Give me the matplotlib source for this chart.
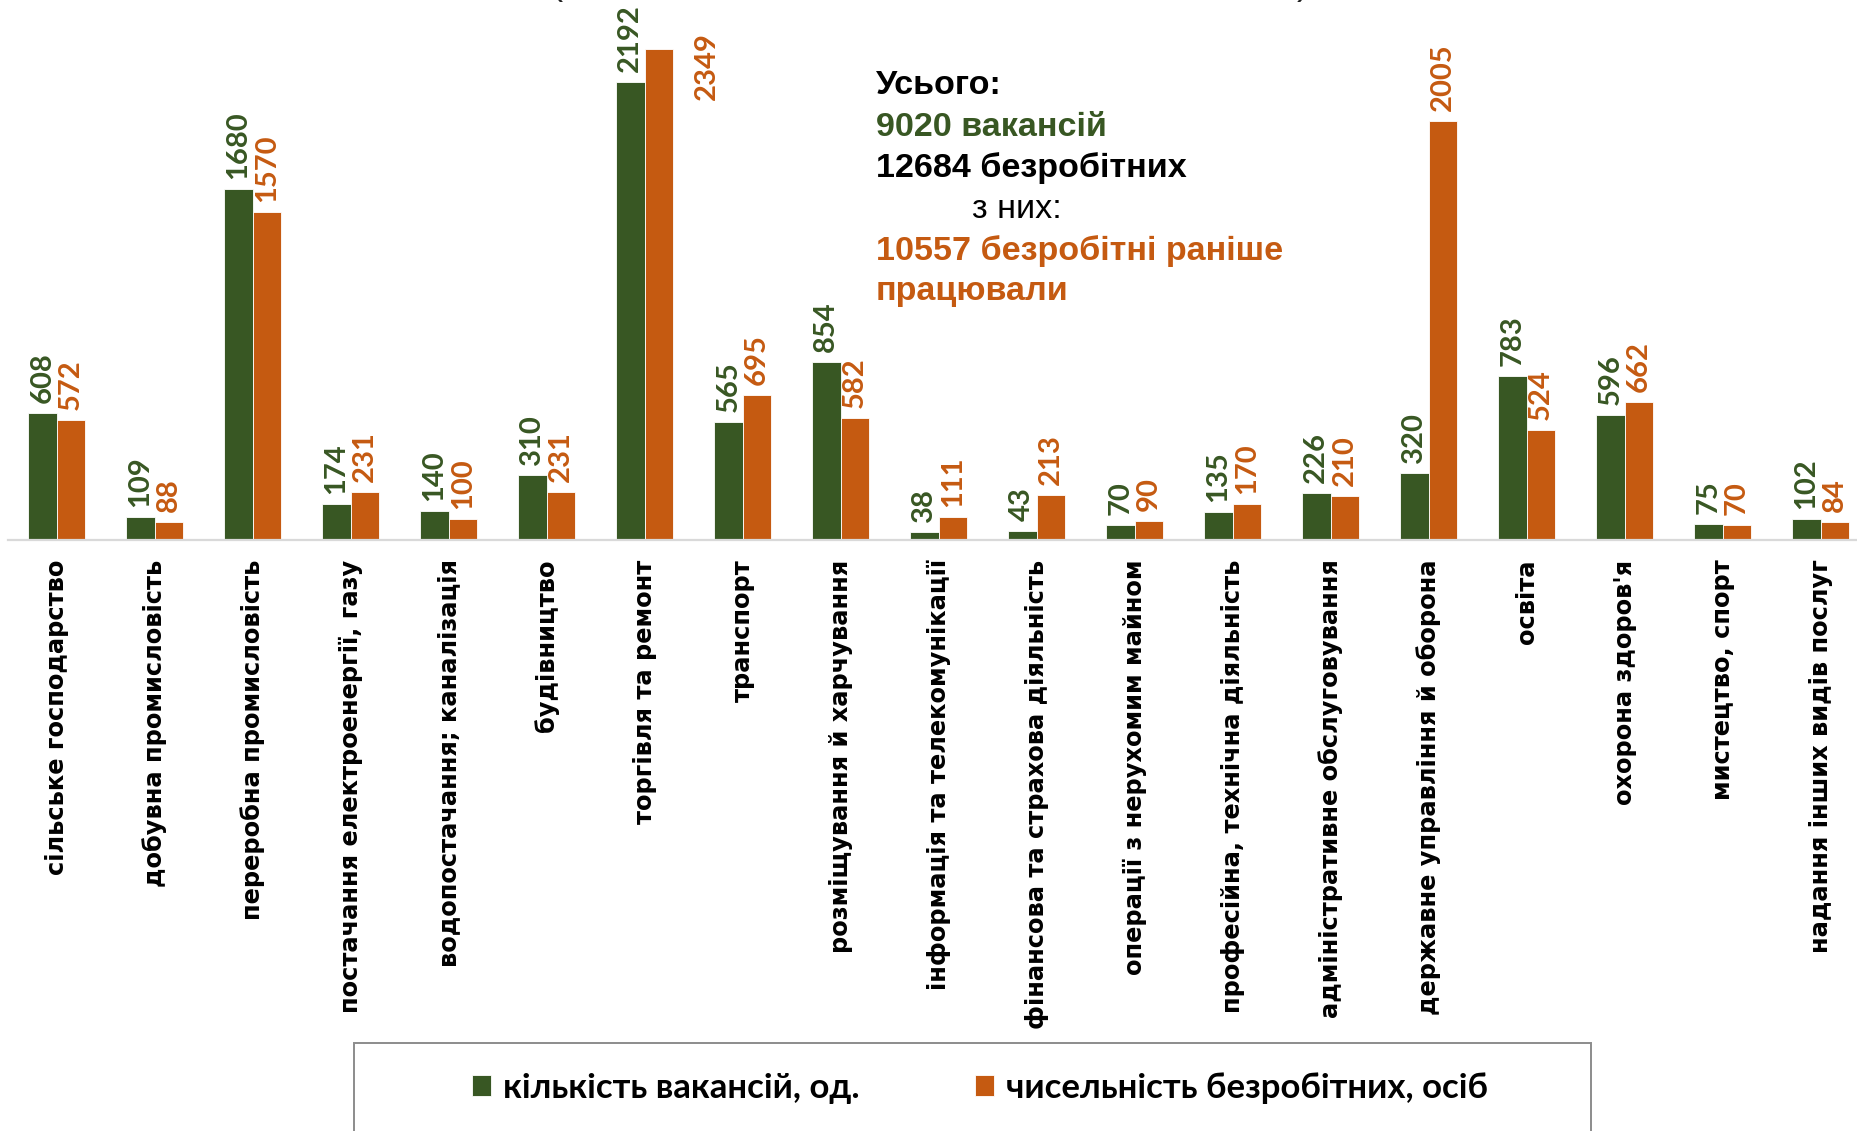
import numpy as np
import matplotlib
matplotlib.use("Agg")
import matplotlib.pyplot as plt
from matplotlib.patches import Rectangle

GREEN = "#385723"
ORANGE = "#C55A11"
W, H, DPI = 1858, 1131, 100

categories = [
    "сільське господарство", "добувна промисловість", "переробна промисловість",
    "постачання електроенергії, газу", "водопостачання; каналізація", "будівництво",
    "торгівля та ремонт", "транспорт", "розміщування й харчування",
    "інформація та телекомунікації", "фінансова та страхова діяльність",
    "операції з нерухомим майном", "професійна, технічна діяльність",
    "адміністративне обслуговування", "державне управління й оборона", "освіта",
    "охорона здоров'я", "мистецтво, спорт", "надання інших видів послуг",
]
vacancies = [608, 109, 1680, 174, 140, 310, 2192, 565, 854, 38, 43, 70, 135, 226, 320, 783, 596, 75, 102]
unemployed = [572, 88, 1570, 231, 100, 231, 2349, 695, 582, 111, 213, 90, 170, 210, 2005, 524, 662, 70, 84]
series_names = ["кількість вакансій, од.", "чисельність безробітних, осіб"]

fig = plt.figure(figsize=(W / DPI, H / DPI), dpi=DPI)
# axes: baseline at y=540px, category step 98px, first group centre at 57px
base_px, step, x0 = 540, 98.0, 7.7
ax = fig.add_axes([x0 / W, (H - base_px) / H, (W - x0) / W, base_px / H])
ymax = base_px / 0.209
ax.set_ylim(0, ymax)
ax.set_xlim(-0.5, (W - x0) / step - 0.5)

x = np.arange(len(categories))
bw = 0.293
b1 = ax.bar(x - bw / 2, vacancies, bw, color=GREEN, edgecolor="white", linewidth=0.6, label=series_names[0])
b2 = ax.bar(x + bw / 2, unemployed, bw, color=ORANGE, edgecolor="white", linewidth=0.6, label=series_names[1])

lab_font = dict(family="Lato", fontsize=21, fontweight="bold", rotation=90, ha="center", va="bottom")
for bars, vals, col in [(b1, vacancies, GREEN), (b2, unemployed, ORANGE)]:
    for r, v in zip(bars, vals):
        off = (0, 10)
        if v == max(unemployed) and col == ORANGE:
            off = (48, -51)   # moved aside so it stays inside the picture
        ax.annotate(str(v), (r.get_x() + r.get_width() / 2, v), xytext=off,
                    textcoords="offset pixels", color=col, clip_on=False, **lab_font)

for s in ["top", "left", "right"]:
    ax.spines[s].set_visible(False)
ax.spines["bottom"].set_color("#d9d9d9")
ax.spines["bottom"].set_linewidth(1.6)
ax.set_yticks([])
ax.set_xticks(x)
ax.set_xticklabels(categories, rotation=90, fontsize=17.4, fontweight="bold",
                   family="DejaVu Sans", va="top", ha="center")
ax.tick_params(axis="x", length=0, pad=14)

# cut-off title remnants at the very top
fig.text(557 / W, 1 + 6 / H, "(", fontsize=26, family="Liberation Sans", va="baseline", ha="center", color="#222222")
fig.text(1303 / W, 1 + 6 / H, ")", fontsize=26, family="Liberation Sans", va="baseline", ha="center", color="#222222")

# totals callout
tx = 876 / W
def line(y_px, s, col="black", weight="bold", dx=0):
    fig.text(tx + dx / W, (H - y_px) / H, s, color=col, fontsize=24.6, fontweight=weight,
             family="Liberation Sans", va="baseline", ha="left")
line(94, "Усього:")
line(136, "9020 вакансій", GREEN)
line(177, "12684 безробітних")
line(218, "з них:", weight="normal", dx=96)
line(260, "10557 безробітні раніше", ORANGE)
line(300, "працювали", ORANGE)

# legend box (runs off the bottom edge like the original)
fig.patches.append(Rectangle((354 / W, -0.1), (1591 - 354) / W, (H - 1043) / H + 0.1,
                             transform=fig.transFigure, fill=False, edgecolor="#8c8c8c", linewidth=1.4))
fig.legend(handles=[b1, b2], labels=series_names, loc="center", bbox_to_anchor=(980 / W, (H - 1088) / H),
           ncol=2, frameon=False, handlelength=0.55, handleheight=0.55, handletextpad=0.35, columnspacing=3.3,
           prop=dict(family="Lato", size=25, weight="bold"))

fig.savefig("out.png", dpi=DPI)
